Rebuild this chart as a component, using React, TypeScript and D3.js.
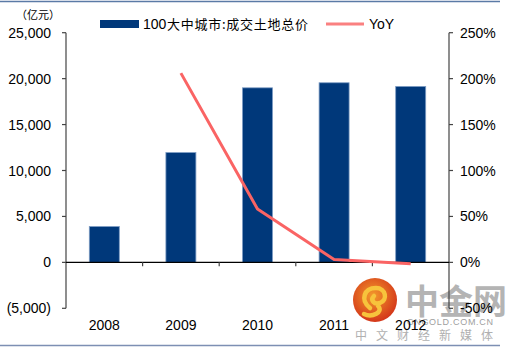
import React from "react";
import * as d3 from "d3";

const years = ["2008", "2009", "2010", "2011", "2012"];
const landValue = [3900, 11950, 19000, 19550, 19150];
const yoyYears = ["2009", "2010", "2011", "2012"];
const yoyValues = [206, 58, 3, -1.5];
const leftTicks = [-5000, 0, 5000, 10000, 15000, 20000, 25000];
const rightTicks = [-50, 0, 50, 100, 150, 200, 250];

const W = 509, H = 350;
const x0 = 66, x1 = 449, yTop = 32.7, yBot = 308.3;

export default function App() {
  const x = d3.scaleBand<string>().domain(years).range([x0, x1]).paddingInner(0).paddingOuter(0);
  const yL = d3.scaleLinear().domain([-5000, 25000]).range([yBot, yTop]);
  const yR = d3.scaleLinear().domain([-50, 250]).range([yBot, yTop]);
  const bw = 30;
  const fmtL = (v: number) => (v < 0 ? `(${d3.format(",")(-v)})` : d3.format(",")(v));
  const line = d3
    .line<number>()
    .x((_, i) => (x(yoyYears[i]) as number) + x.bandwidth() / 2)
    .y((d) => yR(d));
  const font = "Liberation Sans, Arial, sans-serif";
  const cjk = "'Noto Sans CJK SC', sans-serif";
  const y0 = yL(0);
  return (
    <svg width={W} height={H} style={{ position: "absolute", left: 0, top: 0, background: "#fff" }}>
      <defs>
        <radialGradient id="lg" cx="45%" cy="40%" r="60%">
          <stop offset="0%" stopColor="#f39a2b" />
          <stop offset="100%" stopColor="#d4371a" />
        </radialGradient>
      </defs>
      <rect width={W} height={H} fill="#fff" />
      <line x1={0} x2={500} y1={1.5} y2={1.5} stroke="#5b7aa6" strokeWidth={1.5} />
      <line x1={0} x2={500} y1={345.5} y2={345.5} stroke="#7d8fb3" strokeWidth={1.5} />

      {/* watermark (behind chart) */}
      <g>
        <circle cx={375} cy={300} r={22} fill="url(#lg)" />
        <path d="M370,308 C360,300 364,288 376,288 C386,288 388,300 380,303 C374,305 370,300 374,296 M378,306 C384,312 372,318 364,314"
          fill="none" stroke="#f7c33c" strokeWidth={4.5} strokeLinecap="round" />
        <text x={405} y={314} fontFamily={cjk} fontSize={34} fontWeight="bold" fill="#b4b4b4">中金网</text>
        <text x={407} y={325} fontFamily={font} fontSize={9} fill="#a0a0a0" textLength={86} lengthAdjust="spacing">CNGOLD.COM.CN</text>
        <text x={355} y={340} fontFamily={cjk} fontSize={12} fill="#b0b0b0" textLength={138} lengthAdjust="spacing">中文财经新媒体</text>
      </g>

      {/* bars */}
      {years.map((yr, i) => {
        const cx = (x(yr) as number) + x.bandwidth() / 2;
        const top = yL(landValue[i]);
        return (
          <rect key={yr} x={cx - bw / 2} y={top} width={bw} height={y0 - top}
            fill="#00387a" stroke="#7d9cc4" strokeWidth={0.8} />
        );
      })}

      {/* left axis */}
      <line x1={x0} x2={x0} y1={yTop} y2={yBot} stroke="#444" strokeWidth={1.2} />
      {leftTicks.map((t) => (
        <g key={t}>
          <line x1={x0 - 4} x2={x0} y1={yL(t)} y2={yL(t)} stroke="#444" strokeWidth={1.2} />
          <text x={51} y={yL(t) + 5} textAnchor="end" fontFamily={font} fontSize={14} fill="#000">
            {fmtL(t)}
          </text>
        </g>
      ))}
      {/* right axis */}
      <line x1={x1} x2={x1} y1={yTop} y2={yBot} stroke="#444" strokeWidth={1.2} />
      {rightTicks.map((t) => (
        <g key={t}>
          <line x1={x1} x2={x1 + 4} y1={yR(t)} y2={yR(t)} stroke="#444" strokeWidth={1.2} />
          <text x={460} y={yR(t) + 5} textAnchor="start" fontFamily={font} fontSize={14} fill="#000">
            {`${t}%`}
          </text>
        </g>
      ))}
      {/* zero axis */}
      <line x1={x0} x2={x1} y1={y0} y2={y0} stroke="#000" strokeWidth={1.3} />
      {years.slice(1).map((yr) => (
        <line key={yr} x1={x(yr) as number} x2={x(yr) as number} y1={y0} y2={y0 + 4} stroke="#444" strokeWidth={1.2} />
      ))}
      {years.map((yr) => (
        <text key={yr} x={(x(yr) as number) + x.bandwidth() / 2} y={330} textAnchor="middle"
          fontFamily={font} fontSize={14} fill="#000">{yr}</text>
      ))}

      {/* line */}
      <path d={line(yoyValues) || ""} fill="none" stroke="#fa6464" strokeWidth={3} strokeLinejoin="round" />

      {/* unit */}
      <text x={16} y={19} fontFamily={cjk} fontSize={11} fill="#000">（亿元）</text>

      {/* legend */}
      <rect x={100} y={20} width={39} height={8} fill="#00387a" />
      <text x={143} y={28.5} fontFamily={font} fontSize={14} fill="#000">100</text>
      <text x={167} y={28.5} fontFamily={cjk} fontSize={13} fill="#000" textLength={141} lengthAdjust="spacing">
        大中城市:成交土地总价
      </text>
      <line x1={326} x2={364} y1={24} y2={24} stroke="#fa8080" strokeWidth={3} />
      <text x={369} y={28.5} fontFamily={font} fontSize={14} fill="#000">YoY</text>
    </svg>
  );
}
